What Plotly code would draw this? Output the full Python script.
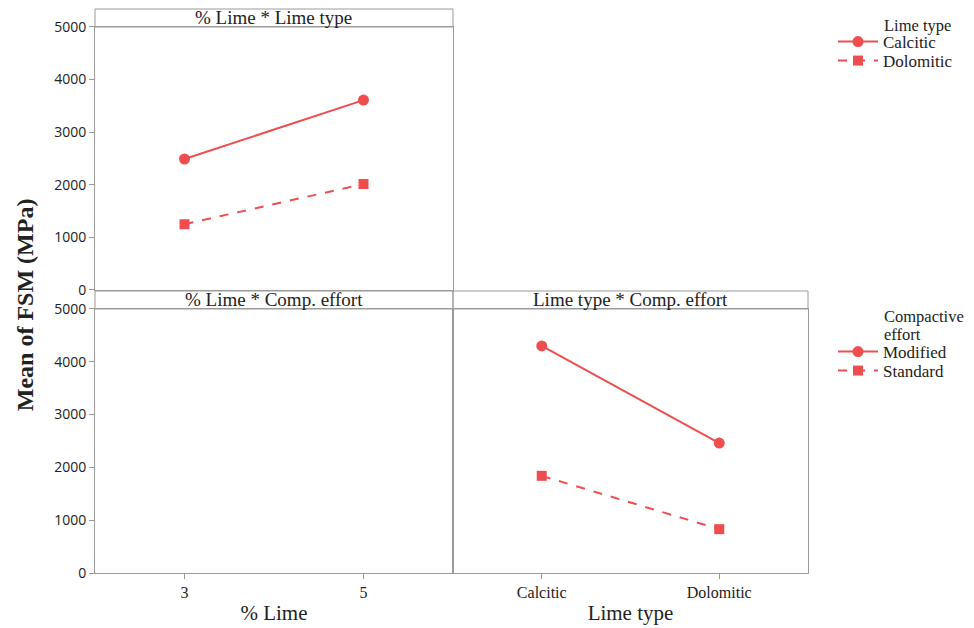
import plotly.graph_objects as go

# ---- data ----
lime_pct = [3, 5]
lime_types = ["Calcitic", "Dolomitic"]
fsm_calcitic_by_lime = [2490, 3610]
fsm_dolomitic_by_lime = [1250, 2015]
fsm_modified_by_type = [4300, 2460]
fsm_standard_by_type = [1840, 830]
y_ticks = [0, 1000, 2000, 3000, 4000, 5000]

RED = "#f04e4e"
FRAME = "#9a9a9a"
TXT = "#222222"
FONT = "Liberation Serif"
SANS = "Open Sans"

fig = go.Figure()

# top-left: % Lime * Lime type
fig.add_trace(go.Scatter(x=lime_pct, y=fsm_calcitic_by_lime, mode="lines+markers",
                         name="Calcitic", legend="legend",
                         line=dict(color=RED, width=2),
                         marker=dict(symbol="circle", size=11, color=RED),
                         xaxis="x", yaxis="y"))
fig.add_trace(go.Scatter(x=lime_pct, y=fsm_dolomitic_by_lime, mode="lines+markers",
                         name="Dolomitic", legend="legend2",
                         line=dict(color=RED, width=2, dash="dash"),
                         marker=dict(symbol="square", size=10, color=RED),
                         xaxis="x", yaxis="y"))
# bottom-left: empty panel (keeps axes visible)
fig.add_trace(go.Scatter(x=lime_pct, y=[None, None], mode="lines", showlegend=False,
                         hoverinfo="skip", xaxis="x2", yaxis="y2"))
# bottom-right: Lime type * Comp. effort
fig.add_trace(go.Scatter(x=lime_types, y=fsm_modified_by_type, mode="lines+markers",
                         name="Modified", legend="legend3",
                         line=dict(color=RED, width=2),
                         marker=dict(symbol="circle", size=11, color=RED),
                         xaxis="x3", yaxis="y3"))
fig.add_trace(go.Scatter(x=lime_types, y=fsm_standard_by_type, mode="lines+markers",
                         name="Standard", legend="legend4",
                         line=dict(color=RED, width=2, dash="dash"),
                         marker=dict(symbol="square", size=10, color=RED),
                         xaxis="x3", yaxis="y3"))

xl = [0, 0.5021]
xr = [0.5021, 1]
top_dom = [0.5018, 0.9681]
bot_dom = [0, 0.4681]

ytickfont = dict(family=SANS, size=14, color=TXT)
xtickfont = dict(family=FONT, size=16, color=TXT)
common_y = dict(range=[0, 5000], tickvals=y_ticks, showgrid=False, zeroline=False,
                showline=True, linecolor=FRAME, linewidth=1, mirror=True,
                ticks="outside", ticklen=5, tickcolor=FRAME, tickfont=ytickfont)
common_x = dict(showgrid=False, zeroline=False, showline=True, linecolor=FRAME,
                linewidth=1, mirror=True, tickfont=xtickfont)
xtitlefont = dict(family=FONT, size=21, color=TXT)

fig.update_layout(
    xaxis=dict(domain=xl, anchor="y", range=[2, 6], tickvals=lime_pct,
               showticklabels=False, ticks="", **common_x),
    yaxis=dict(domain=top_dom, anchor="x", **common_y),
    xaxis2=dict(domain=xl, anchor="y2", range=[2, 6], tickvals=lime_pct,
                ticks="outside", ticklen=5, tickcolor=FRAME,
                title=dict(text="% Lime", font=xtitlefont, standoff=5),
                **common_x),
    yaxis2=dict(domain=bot_dom, anchor="x2", **common_y),
    xaxis3=dict(domain=xr, anchor="y3", type="category", range=[-0.5, 1.5],
                ticks="outside", ticklen=5, tickcolor=FRAME,
                title=dict(text="Lime type", font=xtitlefont, standoff=5),
                **common_x),
    yaxis3=dict(domain=bot_dom, anchor="x3", range=[0, 5000], tickvals=y_ticks,
                showticklabels=False, ticks="", showgrid=False, zeroline=False,
                showline=True, linecolor=FRAME, linewidth=1, mirror=True),
)

# header strips
strips = [
    (xl, [top_dom[1], 1.0], "% Lime * Lime type"),
    (xl, [bot_dom[1], 0.5], "% Lime * Comp. effort"),
    (xr, [bot_dom[1], 0.5], "Lime type * Comp. effort"),
]
for (x0, x1), (y0, y1), label in strips:
    fig.add_shape(type="rect", xref="paper", yref="paper", x0=x0, x1=x1, y0=y0, y1=y1,
                  line=dict(color=FRAME, width=1), fillcolor="rgba(0,0,0,0)")
    fig.add_annotation(xref="paper", yref="paper", x=(x0 + x1) / 2, y=(y0 + y1) / 2,
                       text=label, showarrow=False, xanchor="center", yanchor="middle",
                       font=dict(family=FONT, size=19, color=TXT))

# y axis title
fig.add_annotation(xref="paper", yref="paper", x=-0.098, y=0.475, text="<b>Mean of FSM (MPa)</b>",
                   textangle=-90, showarrow=False, xanchor="center", yanchor="middle",
                   font=dict(family=FONT, size=24, color=TXT))

# legend titles
legfont = dict(family=FONT, size=17, color=TXT)
title_x = 1.1038
for text, ypix in [("Lime type", 25), ("Compactive", 316), ("effort", 334)]:
    fig.add_annotation(xref="paper", yref="paper", x=title_x, y=(573 - ypix) / 564, text=text,
                       showarrow=False, xanchor="left", yanchor="middle", align="left",
                       font=dict(family=FONT, size=16.5, color=TXT))

legx = (833 - 95) / 713
def leg(ypix):
    return dict(x=legx, y=(573 - ypix) / 564, xanchor="left", yanchor="middle", font=legfont,
                bgcolor="rgba(0,0,0,0)", itemwidth=40)

# the page body adds an 8px margin, so the figure is 966x620 inside a 974x628 window
fig.update_layout(
    width=966, height=620,
    margin=dict(l=87, r=166, t=1, b=55, autoexpand=False),
    paper_bgcolor="white", plot_bgcolor="white",
    showlegend=True,
    legend=leg(42),
    legend2=leg(61),
    legend3=leg(352),
    legend4=leg(371),
)

fig.write_html("out.html")
